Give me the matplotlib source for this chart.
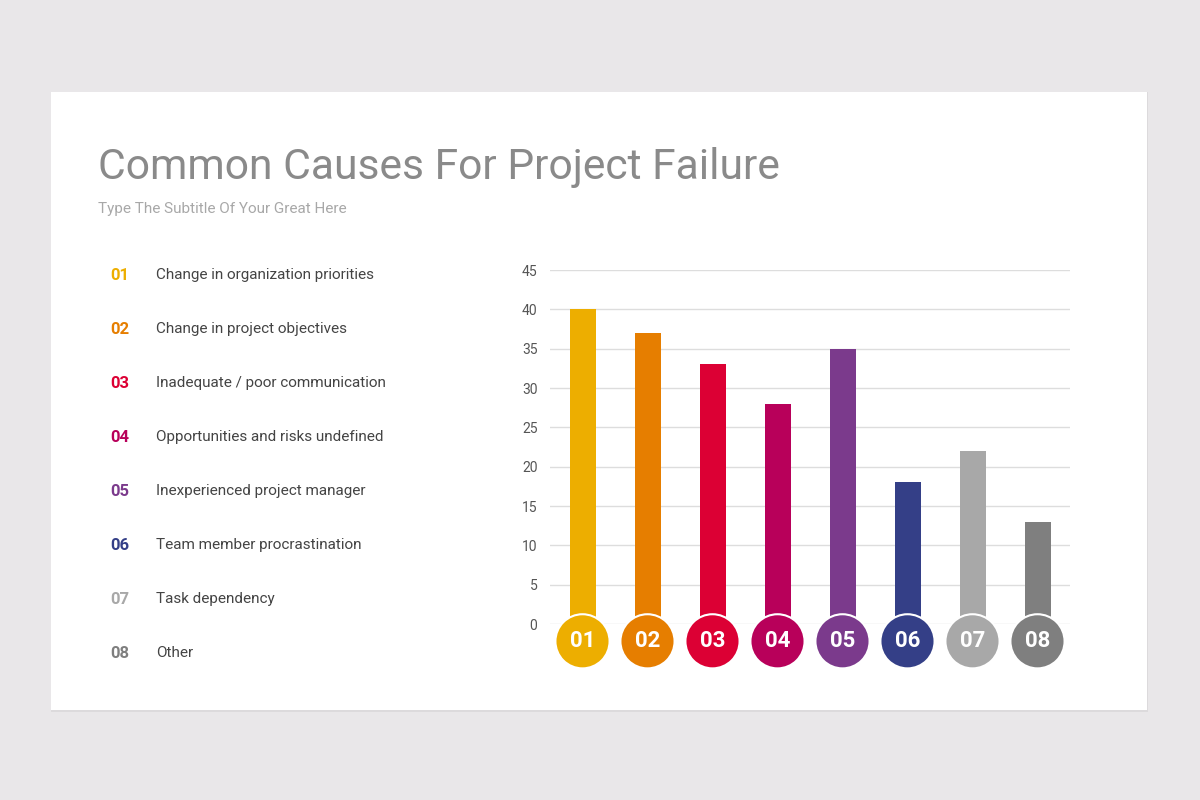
import matplotlib.pyplot as plt
from matplotlib.patches import Rectangle

plt.rcParams['font.family'] = ['Roboto', 'DejaVu Sans']

codes = ["01", "02", "03", "04", "05", "06", "07", "08"]
causes = [
    "Change in organization priorities",
    "Change in project objectives",
    "Inadequate / poor communication",
    "Opportunities and risks undefined",
    "Inexperienced project manager",
    "Team member procrastination",
    "Task dependency",
    "Other",
]
values = [40, 37, 33, 28, 35, 18, 22, 13]
colors = ["#EDAE00", "#E67E00", "#DC0034", "#B8005A",
          "#7B3A8C", "#343F87", "#A8A8A8", "#7F7F7F"]
yticks = [0, 5, 10, 15, 20, 25, 30, 35, 40, 45]

fig = plt.figure(figsize=(12, 8), dpi=100)
fig.patch.set_facecolor("#E9E7E9")

# card with faint shadow
W, H = 1200, 800
fig.patches.append(Rectangle((51 / W, (800 - 712) / H), 1097 / W, 620 / H,
                             transform=fig.transFigure, facecolor="#DCDADC",
                             edgecolor="none", zorder=-3))
fig.patches.append(Rectangle((51 / W, (800 - 710) / H), 1096 / W, 618 / H,
                             transform=fig.transFigure, facecolor="white",
                             edgecolor="none", zorder=-2))

fig.text(98 / W, 1 - 167 / H, "Common Causes For Project Failure",
         fontsize=30.7, color="#8A8A8A", va="center", ha="left")
fig.text(98 / W, 1 - 209 / H, "Type The Subtitle Of Your Great Here",
         fontsize=11, color="#A8A8A8", va="center", ha="left")

for i, (c, txt, col) in enumerate(zip(codes, causes, colors)):
    y = 1 - (275 + 54 * i) / H
    fig.text(110 / W, y, c, fontsize=12, fontweight="bold", color=col,
             va="center", ha="left")
    fig.text(156 / W, y, txt, fontsize=11, color="#444444",
             va="center", ha="left")

ax = fig.add_axes([550 / W, (800 - 624) / H, 520 / W, 354 / H])
ax.set_facecolor("none")
x = list(range(len(values)))
ax.bar(x, values, width=0.4, color=colors, zorder=2)
ax.set_xlim(-0.5, 7.5)
ax.set_ylim(0, 45)
ax.set_yticks(yticks)
ax.yaxis.grid(True, color="#DDDDDD", linewidth=1, zorder=0)
ax.set_axisbelow(True)
ax.set_xticks([])
for s in ax.spines.values():
    s.set_visible(False)
ax.tick_params(axis="y", length=0, pad=9, labelsize=10, labelcolor="#555555")

ax.scatter(x, [-2.2] * len(x), s=1520, c=colors, edgecolors="white",
           linewidths=1.5, zorder=3, clip_on=False)
for xi, c in zip(x, codes):
    ax.text(xi, -2.2, c, color="white", fontsize=16, fontweight="bold",
            ha="center", va="center", zorder=4, clip_on=False)

fig.savefig("out.png", dpi=100, facecolor=fig.get_facecolor())
